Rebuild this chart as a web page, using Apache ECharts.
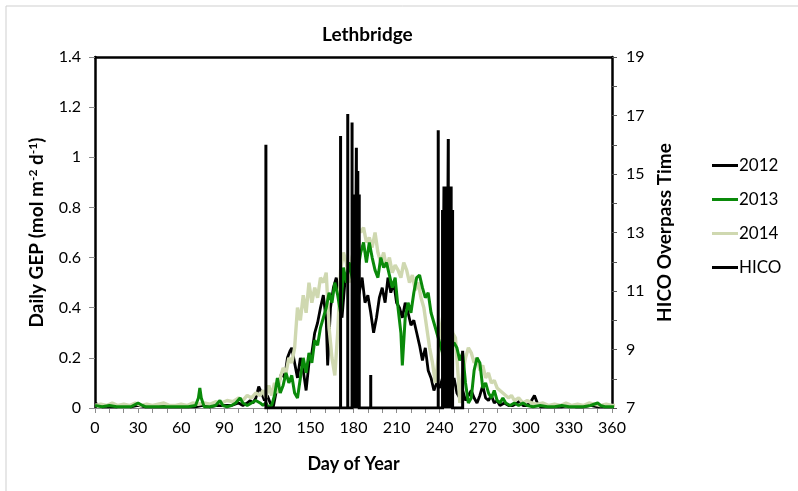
<!DOCTYPE html>
<html>
<head>
<meta charset="utf-8">
<script src="https://cdn.jsdelivr.net/npm/echarts@6/dist/echarts.min.js"></script>
<style>html,body{margin:0;padding:0;background:#fff}#c{width:798px;height:491px}</style>
</head>
<body>
<div id="c"></div>
<script>
// ---- data ----
const xTicks = [0, 30, 60, 90, 120, 150, 180, 210, 240, 270, 300, 330, 360];

const days2012 = [0,3,5,10,15,20,25,30,35,40,45,50,55,60,65,70,75,80,85,90,95,100,103,106,108,110,112,114,116,118,120,122,124,126,128,130,132,134,136,137,139,141,143,145,147,149,151,153,155,157,159,161,162,164,166,168,170,172,174,176,178,180,182,184,186,188,190,192,194,196,198,200,202,204,206,208,210,212,214,216,218,220,222,224,226,228,230,232,234,236,238,240,242,244,246,248,250,252,254,256,258,260,262,264,266,268,270,272,274,276,278,280,282,285,288,291,294,296,298,301,304,306,308,310,315,320,325,330,335,340,345,350,355,360,365];
const gep2012 = [0.02,0.01,0.005,0.005,0.005,0.01,0.005,0.01,0.005,0.005,0.005,0.005,0.005,0.005,0.005,0.005,0.01,0.005,0.01,0.01,0.01,0.02,0.01,0.02,0.03,0.02,0.04,0.085,0.06,0.03,0.05,0.02,0.0,0.06,0.10,0.14,0.12,0.20,0.23,0.24,0.18,0.12,0.20,0.15,0.07,0.18,0.22,0.30,0.34,0.40,0.45,0.35,0.17,0.40,0.48,0.52,0.45,0.36,0.50,0.55,0.58,0.50,0.42,0.46,0.52,0.42,0.45,0.38,0.30,0.36,0.44,0.48,0.42,0.52,0.46,0.50,0.42,0.40,0.36,0.42,0.38,0.33,0.35,0.30,0.25,0.19,0.24,0.15,0.12,0.07,0.10,0.08,0.12,0.05,0.10,0.06,0.12,0.06,0.04,0.07,0.03,0.05,0.07,0.04,0.02,0.05,0.09,0.04,0.03,0.05,0.02,0.03,0.01,0.02,0.01,0.01,0.02,0.03,0.01,0.01,0.03,0.05,0.02,0.005,0.005,0.005,0.005,0.01,0.005,0.005,0.01,0.005,0.005,0.005,0.005];

const days2013 = [0,5,10,15,20,25,30,33,35,40,45,50,55,60,65,70,72,73,74,76,80,84,87,89,92,95,98,101,103,106,109,112,115,117,119,121,123,125,127,129,131,133,135,137,139,141,143,145,147,149,151,153,155,157,159,161,163,165,167,169,171,173,175,177,179,181,183,185,187,189,191,193,195,197,199,201,203,205,207,209,211,213,214,216,218,220,222,224,226,228,230,232,234,236,238,240,242,244,246,248,250,252,254,256,258,260,262,264,266,268,270,272,274,276,278,280,282,284,286,289,292,295,298,301,305,310,315,320,325,330,335,340,345,350,352,355,360,365];
const gep2013 = [0.01,0.005,0.01,0.005,0.005,0.005,0.02,0.01,0.005,0.005,0.005,0.005,0.005,0.005,0.005,0.01,0.04,0.08,0.04,0.005,0.005,0.01,0.03,0.01,0.005,0.01,0.02,0.04,0.02,0.01,0.02,0.03,0.02,0.01,0.02,0.0,0.01,0.05,0.12,0.06,0.09,0.14,0.10,0.13,0.06,0.04,0.12,0.20,0.14,0.22,0.18,0.27,0.25,0.32,0.36,0.40,0.46,0.42,0.50,0.45,0.38,0.56,0.50,0.58,0.52,0.47,0.55,0.62,0.66,0.58,0.66,0.60,0.55,0.52,0.60,0.56,0.58,0.53,0.48,0.52,0.40,0.30,0.17,0.36,0.42,0.38,0.46,0.52,0.53,0.48,0.44,0.46,0.38,0.34,0.30,0.26,0.22,0.18,0.22,0.25,0.26,0.24,0.19,0.22,0.10,0.02,0.04,0.15,0.20,0.18,0.08,0.10,0.06,0.04,0.07,0.03,0.02,0.04,0.02,0.01,0.02,0.01,0.02,0.01,0.005,0.01,0.005,0.005,0.01,0.005,0.005,0.005,0.01,0.02,0.01,0.005,0.005,0.005];

const days2014 = [0,4,8,12,16,20,24,28,32,36,40,44,48,52,56,60,64,68,72,76,80,84,88,92,96,100,103,106,109,112,115,117,119,121,123,125,127,129,131,133,135,137,139,141,143,145,147,149,151,153,155,157,159,161,163,165,167,169,171,173,175,177,179,181,183,185,187,189,191,193,195,197,199,201,203,205,207,209,211,213,215,217,219,221,223,225,227,229,231,233,235,237,239,241,243,245,247,249,251,253,254,256,258,260,262,264,266,268,270,272,274,276,278,280,282,284,286,288,290,292,295,298,301,304,308,312,316,320,324,328,332,336,340,344,348,352,356,360,365];
const gep2014 = [0.01,0.015,0.01,0.02,0.01,0.015,0.01,0.02,0.01,0.015,0.01,0.015,0.02,0.01,0.01,0.015,0.01,0.02,0.015,0.02,0.015,0.025,0.02,0.03,0.025,0.04,0.03,0.05,0.04,0.06,0.05,0.07,0.04,0.09,0.05,0.10,0.06,0.12,0.16,0.14,0.20,0.18,0.24,0.40,0.35,0.45,0.38,0.50,0.42,0.48,0.44,0.52,0.50,0.54,0.32,0.20,0.13,0.30,0.55,0.62,0.58,0.50,0.60,0.66,0.72,0.70,0.72,0.66,0.68,0.64,0.70,0.62,0.58,0.62,0.56,0.60,0.54,0.57,0.55,0.52,0.58,0.55,0.50,0.53,0.47,0.50,0.44,0.40,0.32,0.24,0.18,0.10,0.20,0.32,0.40,0.34,0.38,0.30,0.28,0.12,0.02,0.14,0.20,0.24,0.22,0.18,0.20,0.15,0.17,0.12,0.14,0.10,0.11,0.08,0.07,0.06,0.05,0.04,0.05,0.03,0.04,0.02,0.03,0.02,0.015,0.02,0.01,0.015,0.01,0.02,0.01,0.015,0.01,0.02,0.015,0.01,0.015,0.01,0.01];

// HICO overpass days and overpass time (hour); the axis floor (7) marks "no overpass"
const hicoDays  = [119,171,176,179,180,181,182,183,184,192,239,242,243,244,245,246,247,248,249,256];
const hicoTimes = [16.0,16.3,17.05,16.76,14.3,14.0,15.9,15.1,14.3,8.13,16.5,13.77,14.57,14.57,14.57,16.2,14.57,14.57,13.77,8.96];
const HICO_FLOOR = 7;

const zip = (a, b) => a.map((d, i) => [d, b[i]]);
// each overpass is drawn as a vertical drop from the floor to its time and back
const hicoData = [];
hicoDays.forEach((d, i) => {
  hicoData.push([d, HICO_FLOOR], [d, hicoTimes[i]], [d, HICO_FLOOR]);
});

const FONT = 'Lato';
const chart = echarts.init(document.getElementById('c'), null, {renderer: 'canvas'});
chart.setOption({
  animation: false,
  backgroundColor: '#fff',
  textStyle: {fontFamily: FONT, color: '#000'},
  title: {
    text: 'Lethbridge', left: 317, top: 20,
    textStyle: {fontFamily: FONT, fontSize: 19, fontWeight: 'bold', color: '#000'}
  },
  graphic: [{
    type: 'rect', shape: {x: 6, y: 6, width: 900, height: 600},
    style: {fill: 'none', stroke: '#cfcfcf', lineWidth: 1}, silent: true
  }],
  legend: {
    orient: 'vertical', left: 707, top: 152, itemGap: 17,
    itemWidth: 26, itemHeight: 3, icon: 'rect',
    textStyle: {fontFamily: FONT, fontSize: 17, color: '#000', padding: [0, 0, 0, -4]},
    data: ['2012', '2013', '2014', 'HICO']
  },
  grid: {left: 95, right: 186, top: 57, bottom: 83, containLabel: false},
  xAxis: [{
    type: 'value', min: 0, max: 360, interval: 10, position: 'bottom',
    name: 'Day of Year', nameLocation: 'middle', nameGap: 47,
    nameTextStyle: {fontFamily: FONT, fontSize: 18, fontWeight: 'bold', color: '#000'},
    axisLine: {onZero: false, lineStyle: {color: '#8c8c8c', width: 1}},
    axisTick: {show: true, length: 5, lineStyle: {color: '#8c8c8c'}},
    axisLabel: {
      fontFamily: FONT, fontSize: 16, color: '#000', margin: 12,
      formatter: v => (xTicks.indexOf(v) >= 0 ? String(v) : '')
    },
    splitLine: {show: false}
  }, {
    type: 'value', min: 0, max: 360, position: 'top',
    axisLine: {show: true, onZero: false, lineStyle: {color: '#000', width: 2.5}},
    axisTick: {show: false}, axisLabel: {show: false}, splitLine: {show: false}
  }],
  yAxis: [{
    type: 'value', min: 0, max: 1.4, interval: 0.2, position: 'left',
    name: '{b|Daily GEP (mol m}{s|-2}{b| d}{s|-1}{b|)}',
    nameLocation: 'middle', nameGap: 49, nameRotate: 90,
    nameTextStyle: {
      rich: {
        b: {fontFamily: FONT, fontSize: 19, fontWeight: 'bold', color: '#000'},
        s: {fontFamily: FONT, fontSize: 12, fontWeight: 'bold', color: '#000', verticalAlign: 'top', padding: [0, 0, 7, 0]}
      }
    },
    axisLine: {show: true, onZero: false, lineStyle: {color: '#000', width: 2.5}},
    axisTick: {show: true, length: 6, lineStyle: {color: '#8c8c8c'}},
    axisLabel: {fontFamily: FONT, fontSize: 16, color: '#000', margin: 14},
    splitLine: {show: false}
  }, {
    type: 'value', min: 7, max: 19, interval: 2, position: 'right',
    name: 'HICO Overpass Time', nameLocation: 'middle', nameGap: 43, nameRotate: 90,
    nameTextStyle: {fontFamily: FONT, fontSize: 19, fontWeight: 'bold', color: '#000'},
    axisLine: {show: true, onZero: false, lineStyle: {color: '#000', width: 2.5}},
    axisTick: {show: true, length: 5, lineStyle: {color: '#555'}},
    minorTick: {show: true, splitNumber: 2, length: 5, lineStyle: {color: '#555'}},
    axisLabel: {fontFamily: FONT, fontSize: 16, color: '#000', margin: 14},
    splitLine: {show: false}
  }],
  series: [{
    name: '2012', type: 'line', xAxisIndex: 0, yAxisIndex: 0,
    data: zip(days2012, gep2012), showSymbol: false, symbol: 'none',
    lineStyle: {color: '#000', width: 2.8}, itemStyle: {color: '#000'}, z: 2
  }, {
    name: '2013', type: 'line', xAxisIndex: 0, yAxisIndex: 0,
    data: zip(days2013, gep2013), showSymbol: false, symbol: 'none',
    lineStyle: {color: '#0a8a0a', width: 3}, itemStyle: {color: '#0a8a0a'}, z: 3
  }, {
    name: '2014', type: 'line', xAxisIndex: 0, yAxisIndex: 0,
    data: zip(days2014, gep2014), showSymbol: false, symbol: 'none',
    lineStyle: {color: '#cfd8b0', width: 3.4}, itemStyle: {color: '#cfd8b0'}, z: 2.5
  }, {
    name: 'HICO', type: 'line', xAxisIndex: 0, yAxisIndex: 1,
    data: hicoData, showSymbol: false, symbol: 'none',
    lineStyle: {color: '#000', width: 3, join: 'miter'}, itemStyle: {color: '#000'}, z: 4
  }]
});
</script>
</body>
</html>
